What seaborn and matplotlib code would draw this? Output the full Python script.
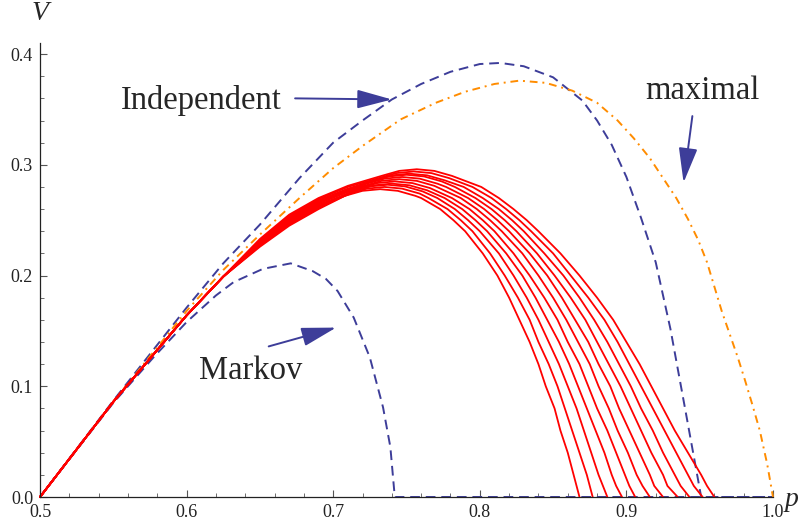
import numpy as np
import pandas as pd
import seaborn as sns
import matplotlib.pyplot as plt

# ---------------- data ----------------
# "Independent" (blue dashed)
indep_p = [0.50, 0.55, 0.60, 0.625, 0.65, 0.677, 0.70, 0.72, 0.74, 0.76, 0.78, 0.80, 0.814,
           0.83, 0.85, 0.87, 0.88, 0.89, 0.90, 0.91, 0.92, 0.93, 0.94, 0.948, 0.951, 1.0]
indep_v = [0.0, 0.087, 0.171, 0.211, 0.246, 0.288, 0.320, 0.340, 0.359, 0.373, 0.384, 0.391, 0.392,
           0.389, 0.379, 0.358, 0.340, 0.318, 0.289, 0.252, 0.212, 0.152, 0.080, 0.022, 0.0, 0.0]

# "Markov" (blue dashed, lower)
markov_p = [0.50, 0.55, 0.578, 0.60, 0.62, 0.632, 0.652, 0.671, 0.686, 0.695, 0.703, 0.714,
            0.725, 0.734, 0.739, 0.742, 1.0]
markov_v = [0.0, 0.085, 0.127, 0.158, 0.182, 0.194, 0.206, 0.211, 0.204, 0.197, 0.186, 0.162,
            0.126, 0.081, 0.045, 0.0, 0.0]

# "maximal" (orange dash-dot)
maximal_p = [0.50, 0.55, 0.60, 0.625, 0.65, 0.677, 0.70, 0.72, 0.746, 0.77, 0.79, 0.81, 0.827,
             0.845, 0.863, 0.88, 0.894, 0.905, 0.916, 0.925, 0.934, 0.942, 0.949, 0.955, 0.965,
             0.976, 0.981, 0.986, 0.991, 0.996, 1.0]
maximal_v = [0.0, 0.086, 0.168, 0.205, 0.237, 0.270, 0.297, 0.317, 0.341, 0.356, 0.366, 0.373, 0.376,
             0.374, 0.367, 0.356, 0.340, 0.324, 0.306, 0.288, 0.270, 0.251, 0.232, 0.212, 0.168,
             0.126, 0.105, 0.083, 0.060, 0.030, 0.0]

# red family: 11 curves, bottom -> top
red_start_p = [0.50, 0.55, 0.60, 0.625]
red_start_v = [0.0, 0.086, 0.164, 0.199]
red_grid_p = [0.65, 0.67, 0.69, 0.71]
red_grid_v = [
    [0.226, 0.227, 0.227, 0.228, 0.229, 0.2295, 0.230, 0.231, 0.2315, 0.232, 0.233],
    [0.245, 0.246, 0.247, 0.248, 0.249, 0.250, 0.251, 0.252, 0.253, 0.254, 0.255],
    [0.260, 0.261, 0.262, 0.263, 0.264, 0.265, 0.266, 0.267, 0.268, 0.269, 0.270],
    [0.270, 0.271, 0.272, 0.273, 0.274, 0.2755, 0.2765, 0.2775, 0.2785, 0.280, 0.281],
]
red_pre2_p = [0.708, 0.711, 0.713, 0.716, 0.718, 0.721, 0.723, 0.726, 0.728, 0.731, 0.733]
red_pre2_v = [0.272, 0.274, 0.276, 0.277, 0.279, 0.281, 0.283, 0.285, 0.286, 0.288, 0.290]
red_pre1_p = [0.720, 0.723, 0.725, 0.728, 0.730, 0.733, 0.735, 0.738, 0.740, 0.743, 0.745]
red_pre1_v = [0.2765, 0.2785, 0.2805, 0.2815, 0.2835, 0.2855, 0.2875, 0.2895, 0.2905, 0.2925, 0.2945]
red_peak_p = [0.732, 0.735, 0.737, 0.740, 0.742, 0.745, 0.747, 0.750, 0.752, 0.755, 0.757]
red_peak_v = [0.278, 0.280, 0.282, 0.283, 0.285, 0.287, 0.289, 0.291, 0.292, 0.294, 0.296]
red_post1_p = [0.744, 0.747, 0.749, 0.752, 0.754, 0.757, 0.759, 0.762, 0.764, 0.767, 0.769]
red_post1_v = [0.2765, 0.2785, 0.2805, 0.2815, 0.2835, 0.2855, 0.2875, 0.2895, 0.2905, 0.2925, 0.2945]
red_post2_p = [0.756, 0.759, 0.761, 0.764, 0.766, 0.769, 0.771, 0.774, 0.776, 0.779, 0.781]
red_post2_v = [0.272, 0.274, 0.276, 0.277, 0.279, 0.281, 0.283, 0.285, 0.286, 0.288, 0.290]
# p where each red curve comes down through a given V
red_levels = [0.28, 0.27, 0.26, 0.25, 0.24, 0.22, 0.20, 0.18, 0.16, 0.14, 0.12, 0.10,
              0.08, 0.06, 0.04, 0.02, 0.01, 0.0]
red_level_p = [
    [None, None, None, None, None, None, 0.777, 0.783, 0.789, 0.795, 0.801],
    [0.760, 0.765, 0.771, 0.776, 0.781, 0.787, 0.792, 0.797, 0.802, 0.808, 0.813],
    [0.773, 0.778, 0.783, 0.788, 0.793, 0.798, 0.803, 0.808, 0.813, 0.818, 0.823],
    [0.782, 0.787, 0.792, 0.797, 0.802, 0.807, 0.812, 0.817, 0.822, 0.827, 0.832],
    [0.790, 0.795, 0.800, 0.805, 0.810, 0.815, 0.820, 0.825, 0.830, 0.835, 0.840],
    [0.802, 0.807, 0.813, 0.818, 0.823, 0.829, 0.834, 0.839, 0.844, 0.850, 0.855],
    [0.812, 0.817, 0.823, 0.829, 0.834, 0.840, 0.846, 0.851, 0.857, 0.862, 0.868],
    [0.820, 0.826, 0.832, 0.838, 0.844, 0.850, 0.856, 0.862, 0.868, 0.874, 0.880],
    [0.827, 0.834, 0.840, 0.846, 0.853, 0.859, 0.865, 0.872, 0.878, 0.885, 0.891],
    [0.834, 0.840, 0.847, 0.854, 0.860, 0.867, 0.874, 0.880, 0.887, 0.894, 0.900],
    [0.840, 0.847, 0.854, 0.861, 0.868, 0.875, 0.881, 0.888, 0.895, 0.902, 0.909],
    [0.845, 0.853, 0.860, 0.867, 0.874, 0.881, 0.889, 0.896, 0.903, 0.910, 0.917],
    [0.851, 0.858, 0.866, 0.873, 0.880, 0.888, 0.895, 0.903, 0.910, 0.918, 0.925],
    [0.855, 0.863, 0.871, 0.879, 0.887, 0.894, 0.902, 0.910, 0.918, 0.926, 0.933],
    [0.860, 0.868, 0.876, 0.885, 0.893, 0.901, 0.909, 0.917, 0.925, 0.934, 0.942],
    [0.864, 0.873, 0.881, 0.890, 0.899, 0.907, 0.916, 0.925, 0.933, 0.942, 0.951],
    [0.866, 0.875, 0.884, 0.893, 0.902, 0.911, 0.919, 0.928, 0.937, 0.946, 0.955],
    [0.868, 0.877, 0.887, 0.897, 0.906, 0.916, 0.925, 0.935, 0.943, 0.952, 0.960],
]

rows = []
for k in range(len(red_peak_p)):
    pts = list(zip(red_start_p, red_start_v))
    for gp, gv in zip(red_grid_p, red_grid_v):
        if gp < red_pre2_p[k] - 0.005:
            pts.append((gp, gv[k]))
    pts += [(red_pre2_p[k], red_pre2_v[k]), (red_pre1_p[k], red_pre1_v[k]),
            (red_peak_p[k], red_peak_v[k]), (red_post1_p[k], red_post1_v[k]),
            (red_post2_p[k], red_post2_v[k])]
    for lv, lp in zip(red_levels, red_level_p):
        if lp[k] is not None and lv < red_post2_v[k] - 0.001:
            pts.append((lp[k], lv))
    for p, v in pts:
        rows.append({'curve': k, 'p': p, 'V': v})
red_df = pd.DataFrame(rows)

# ---------------- style ----------------
sns.set_style("ticks")
plt.rcParams['font.family'] = 'serif'
plt.rcParams['font.serif'] = ['Liberation Serif', 'DejaVu Serif']

blue = '#3d3d99'
orange = '#ff8c00'

fig = plt.figure(figsize=(8.04, 5.24), dpi=100)
ax = fig.add_axes([40 / 804, 1 - 497 / 524, 733 / 804, 454 / 524])

lw = 1.4
sns.lineplot(x=indep_p, y=indep_v, ax=ax, color=blue, lw=lw, estimator=None, sort=False,
             linestyle=(0, (5, 3)), clip_on=False)
sns.lineplot(x=markov_p, y=markov_v, ax=ax, color=blue, lw=lw, estimator=None, sort=False,
             linestyle=(0, (5, 3)), clip_on=False)
sns.lineplot(x=maximal_p, y=maximal_v, ax=ax, color=orange, lw=lw, estimator=None, sort=False,
             linestyle=(0, (4, 2.5, 1, 2.5)), clip_on=False)
sns.lineplot(data=red_df, x='p', y='V', units='curve', estimator=None, sort=False, ax=ax,
             color='red', lw=1.3, clip_on=False)

ax.set_xlim(0.5, 1.0)
ax.set_ylim(0.0, 0.41)
ax.set_xticks([0.5, 0.6, 0.7, 0.8, 0.9, 1.0])
ax.set_xticks(np.arange(0.5, 1.0001, 0.02), minor=True)
ax.set_yticks([0.0, 0.1, 0.2, 0.3, 0.4])
ax.set_yticks(np.arange(0.0, 0.41, 0.02), minor=True)
ax.xaxis.set_major_formatter(plt.FormatStrFormatter('%.1f'))
ax.yaxis.set_major_formatter(plt.FormatStrFormatter('%.1f'))
ax.tick_params(which='both', direction='in', color='#555555', labelsize=13, labelcolor='#222222')
ax.tick_params(which='major', length=5, width=0.8, pad=5)
ax.tick_params(which='minor', length=3.2, width=0.6)
ax.set_xlabel('')
ax.set_ylabel('')
for s in ['top', 'right']:
    ax.spines[s].set_visible(False)
for s in ['left', 'bottom']:
    ax.spines[s].set_linewidth(0.9)
    ax.spines[s].set_color('#222222')

# axis names
fig.text(40 / 804, 1 - 14 / 524, 'V', fontsize=20, style='italic', ha='center', va='center')
fig.text(792 / 804, 1 - 500 / 524, 'p', fontsize=20, style='italic', ha='center', va='center')

# annotations
arrow = dict(arrowstyle='-|>,head_length=2.15,head_width=0.58', mutation_scale=10,
             color=blue, lw=1.4, shrinkA=0, shrinkB=0)
ax.text(0.610, 0.358, 'Independent', fontsize=23.5, ha='center', va='center')
ax.annotate('', xy=(0.740, 0.359), xytext=(0.674, 0.360), arrowprops=arrow)
ax.text(0.952, 0.367, 'maximal', fontsize=23.5, ha='center', va='center')
ax.annotate('', xy=(0.939, 0.284), xytext=(0.945, 0.344), arrowprops=arrow)
ax.text(0.644, 0.114, 'Markov', fontsize=23.5, ha='center', va='center')
ax.annotate('', xy=(0.702, 0.153), xytext=(0.656, 0.136), arrowprops=arrow)

if ax.get_legend() is not None:
    ax.get_legend().remove()

fig.savefig('out.png', dpi=100)
